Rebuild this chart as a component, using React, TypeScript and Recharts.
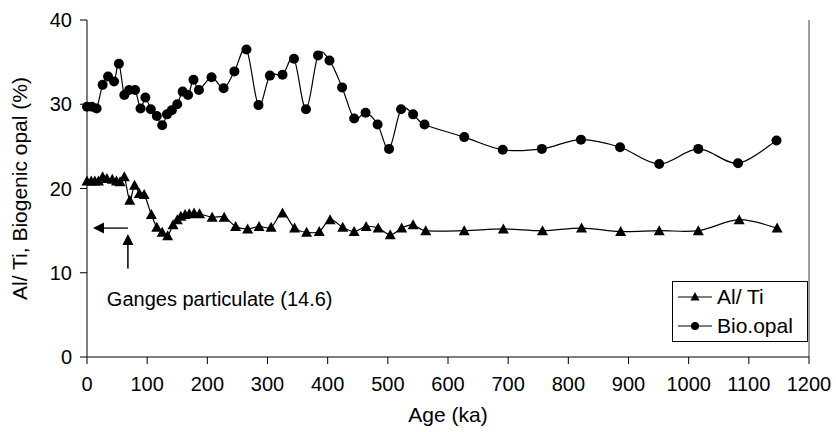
import { LineChart, Line, XAxis, YAxis, ReferenceLine, ReferenceDot } from "recharts"

const FONT = "'Liberation Sans', Arial, sans-serif"

const OPAL_AGE = [0, 8, 16, 26, 35, 45, 53, 62, 70, 80, 89, 97, 106, 116, 125, 133, 141, 150, 159, 168, 177, 186, 207, 227, 245, 265, 285, 304, 325, 344, 364, 384, 403, 424, 444, 463, 483, 502, 522, 542, 561, 627, 691, 756, 821, 886, 951, 1016, 1082, 1146]
const OPAL_VAL = [29.7, 29.7, 29.5, 32.3, 33.3, 32.7, 34.8, 31.1, 31.7, 31.7, 29.5, 30.8, 29.4, 28.6, 27.5, 28.8, 29.3, 30.0, 31.5, 31.1, 32.9, 31.7, 33.2, 31.9, 33.9, 36.5, 29.9, 33.4, 33.5, 35.4, 29.4, 35.8, 35.2, 32.0, 28.3, 29.0, 27.6, 24.7, 29.4, 28.8, 27.6, 26.1, 24.6, 24.7, 25.8, 24.9, 22.9, 24.7, 23.0, 25.7]

const ALTI_AGE = [0, 7, 13, 19, 26, 33, 42, 49, 55, 62, 71, 79, 87, 95, 107, 116, 125, 134, 143, 150, 156, 163, 170, 178, 187, 208, 228, 247, 267, 286, 306, 325, 345, 365, 386, 404, 425, 444, 464, 484, 504, 523, 542, 563, 627, 692, 757, 822, 887, 951, 1016, 1084, 1147]
const ALTI_VAL = [20.9, 20.9, 20.9, 20.9, 21.4, 21.2, 21.1, 20.9, 20.8, 21.4, 18.6, 20.4, 19.4, 19.3, 16.9, 15.4, 14.8, 14.4, 15.7, 16.3, 16.7, 16.9, 17.0, 17.1, 17.0, 16.6, 16.6, 15.5, 15.2, 15.5, 15.4, 17.1, 15.3, 14.8, 14.9, 16.3, 15.4, 14.9, 15.5, 15.3, 14.5, 15.3, 15.7, 15.0, 15.0, 15.2, 15.0, 15.3, 14.9, 15.0, 15.0, 16.3, 15.3]

const X_TICKS = [0, 100, 200, 300, 400, 500, 600, 700, 800, 900, 1000, 1100, 1200]
const Y_TICKS = [0, 10, 20, 30, 40]

const GANGES_AGE = 68
const GANGES_VAL = 14.6

const opalData = OPAL_AGE.map((age, i) => ({ age, value: OPAL_VAL[i] }))
const altiData = ALTI_AGE.map((age, i) => ({ age, value: ALTI_VAL[i] }))

// Excel-style smoothed line (Catmull-Rom through every point)
function excelSmooth(context: any) {
  let pts: number[][] = []
  return {
    areaStart() {},
    areaEnd() {},
    lineStart() { pts = [] },
    point(x: number, y: number) { pts.push([+x, +y]) },
    lineEnd() {
      if (!pts.length) return
      context.moveTo(pts[0][0], pts[0][1])
      for (let i = 0; i < pts.length - 1; i++) {
        const p0 = pts[i - 1] || pts[i], p1 = pts[i], p2 = pts[i + 1], p3 = pts[i + 2] || p2
        context.bezierCurveTo(
          p1[0] + (p2[0] - p0[0]) / 6, p1[1] + (p2[1] - p0[1]) / 6,
          p2[0] - (p3[0] - p1[0]) / 6, p2[1] - (p3[1] - p1[1]) / 6,
          p2[0], p2[1],
        )
      }
    },
  }
}

function Triangle({ cx, cy }: { cx?: number; cy?: number }) {
  if (cx == null || cy == null) return null
  return <path d={`M${cx},${cy - 5.5} L${cx + 5.5},${cy + 4.5} L${cx - 5.5},${cy + 4.5} Z`} fill="#000" />
}

function Circle({ cx, cy }: { cx?: number; cy?: number }) {
  if (cx == null || cy == null) return null
  return <circle cx={cx} cy={cy} r={5} fill="#000" />
}

function YLabel({ viewBox }: any) {
  const cy = viewBox ? viewBox.y + viewBox.height / 2 : 188
  return (
    <text x={27} y={cy} transform={`rotate(-90, 27, ${cy})`} textAnchor="middle"
      fontSize={21} fontFamily={FONT} fill="#000">
      Al/ Ti, Biogenic opal (%)
    </text>
  )
}

function LegendBox() {
  const row = (label: string, marker: "tri" | "dot") => (
    <div style={{ display: "flex", alignItems: "center", height: 30 }}>
      <svg width={44} height={20}>
        <line x1={5} y1={10} x2={39} y2={10} stroke="#000" strokeWidth={1.2} />
        {marker === "tri"
          ? <path d="M22,5 L26.5,13.5 L17.5,13.5 Z" fill="#000" />
          : <circle cx={22} cy={10} r={4} fill="#000" />}
      </svg>
      <span>{label}</span>
    </div>
  )
  return (
    <div style={{
      position: "absolute", left: 672, top: 281, width: 134, height: 59,
      border: "1px solid #000", background: "#fff", fontFamily: FONT, fontSize: 21,
      display: "flex", flexDirection: "column", justifyContent: "center",
    }}>
      {row("Al/ Ti", "tri")}
      {row("Bio.opal", "dot")}
    </div>
  )
}

export default function App() {
  const tickStyle = { fill: "#000", fontSize: 20, fontFamily: FONT }
  return (
    <div style={{ position: "absolute", left: 0, top: 0, width: 836, height: 432, background: "#fff" }}>
      <LineChart width={836} height={432} margin={{ top: 20, right: 27, bottom: 0, left: 0 }}>
        <XAxis
          type="number" dataKey="age" domain={[0, 1200]} ticks={X_TICKS} height={75}
          tick={tickStyle} tickSize={7} tickMargin={13} stroke="#000" allowDuplicatedCategory={false}
          label={{ value: "Age (ka)", position: "insideBottom", offset: 10, fill: "#000", fontSize: 21, fontFamily: FONT }}
        />
        <YAxis
          type="number" domain={[0, 40]} ticks={Y_TICKS} width={87}
          tick={tickStyle} tickSize={7} tickMargin={8} stroke="#000"
          label={<YLabel />}
        />
        <ReferenceLine x={1200} stroke="#808080" strokeWidth={1.5} />
        <Line data={opalData} dataKey="value" type={excelSmooth as any} stroke="#000" strokeWidth={1.2}
          dot={<Circle />} activeDot={false} isAnimationActive={false} />
        <Line data={altiData} dataKey="value" type={excelSmooth as any} stroke="#000" strokeWidth={1.2}
          dot={<Triangle />} activeDot={false} isAnimationActive={false} />
        <ReferenceLine segment={[{ x: GANGES_AGE, y: 10.5 }, { x: GANGES_AGE, y: 13.6 }]} stroke="#000" strokeWidth={1.5} />
        <ReferenceDot x={GANGES_AGE} y={GANGES_VAL} shape={(p: any) => (
          <path d={`M${p.cx},${p.cy} L${p.cx + 5.5},${p.cy + 11} L${p.cx - 5.5},${p.cy + 11} Z`} fill="#000" />
        )} />
        <ReferenceLine segment={[{ x: 26, y: 15.3 }, { x: GANGES_AGE, y: 15.3 }]} stroke="#444" strokeWidth={1.8} />
        <ReferenceDot x={10} y={15.3} shape={(p: any) => (
          <path d={`M${p.cx},${p.cy} L${p.cx + 11},${p.cy - 5.5} L${p.cx + 11},${p.cy + 5.5} Z`} fill="#000" />
        )} />
        <ReferenceDot x={33} y={6.1} shape={(p: any) => (
          <text x={p.cx} y={p.cy} fontSize={20} fontFamily={FONT} fill="#000">Ganges particulate (14.6)</text>
        )} />
      </LineChart>
      <LegendBox />
    </div>
  )
}
